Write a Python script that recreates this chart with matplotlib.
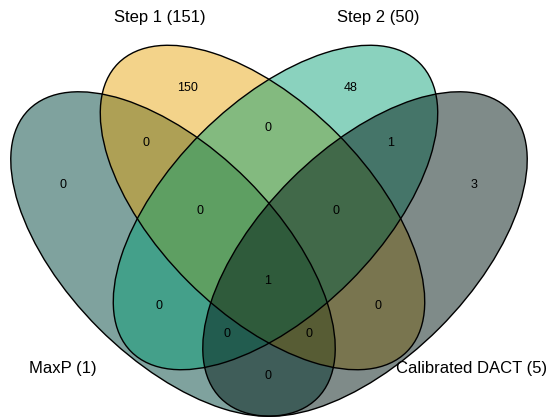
import matplotlib.pyplot as plt
from matplotlib.patches import Ellipse

plt.rcParams['font.family'] = ['Liberation Sans', 'DejaVu Sans']

# sets, in drawing order
set_names = ['MaxP', 'Step 1', 'Step 2', 'Calibrated DACT']
set_totals = [1, 151, 50, 5]
set_colors = ['#00473F', '#E69F00', '#009E73', '#011915']
set_alphas = [0.5, 0.46, 0.46, 0.5]

# region counts (members of each region)
regions = ['MaxP', 'Step 1', 'Step 2', 'Cal',
           'MaxP&Step 1', 'Step 1&Step 2', 'Step 2&Cal',
           'MaxP&Step 1&Step 2', 'Step 1&Step 2&Cal', 'all',
           'MaxP&Step 2', 'Step 1&Cal',
           'MaxP&Step 2&Cal', 'MaxP&Step 1&Cal', 'MaxP&Cal']
counts = [0, 150, 48, 3,
          0, 0, 1,
          0, 0, 1,
          0, 0,
          0, 0, 0]

# layout, in pixels of the 549x417 picture (y down)
ell_centers = [(173, 254), (262.5, 207.5), (275.5, 207.5), (365, 254)]
ell_semi = (204, 105)
ell_angles = [45, 45, -45, -45]

count_px = [(63, 185), (187, 88), (351, 88), (474, 185),
            (146, 143), (268, 128), (391, 143),
            (200, 211), (336, 211), (268, 281),
            (159, 306), (378, 306),
            (227, 334), (309, 334), (268, 376)]
name_px = [(63, 368), (160, 17), (378, 17), (472, 368)]

fig = plt.figure(figsize=(5.49, 4.17), dpi=100)
ax = fig.add_axes([0, 0, 1, 1])
ax.set_xlim(0, 549)
ax.set_ylim(417, 0)
ax.axis('off')

a, b = ell_semi
for c, ang, col, al in zip(ell_centers, ell_angles, set_colors, set_alphas):
    ax.add_patch(Ellipse(c, 2 * a, 2 * b, angle=ang, facecolor=col,
                         alpha=al, edgecolor='none'))
for c, ang in zip(ell_centers, ell_angles):
    ax.add_patch(Ellipse(c, 2 * a, 2 * b, angle=ang, facecolor='none',
                         edgecolor='black', linewidth=1.0))

for n, p in zip(counts, count_px):
    ax.text(p[0], p[1], str(n), ha='center', va='center', fontsize=9)

for name, tot, p in zip(set_names, set_totals, name_px):
    ax.text(p[0], p[1], f'{name} ({tot})', ha='center', va='center',
            fontsize=12)

fig.savefig('out.png', dpi=100)
